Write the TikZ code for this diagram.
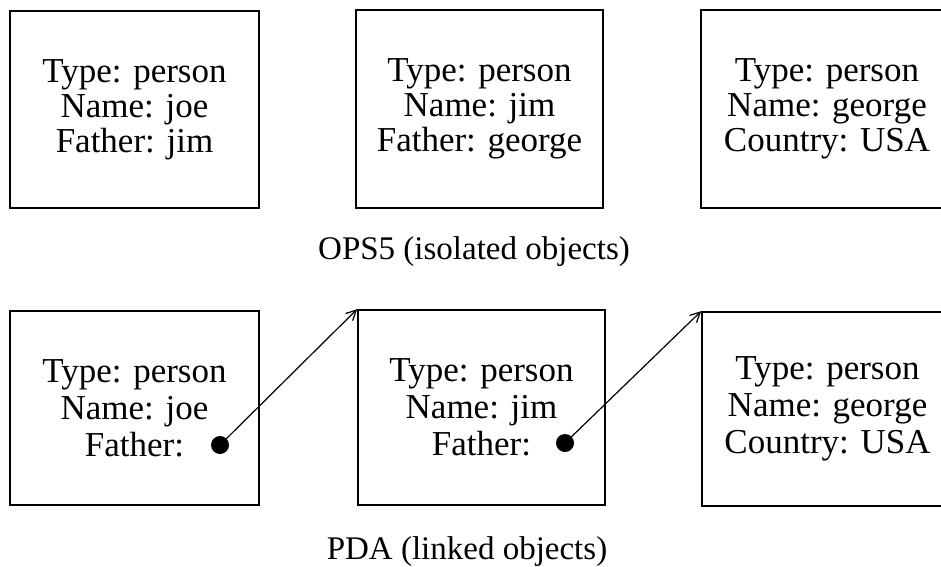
\documentclass[tikz,border=0pt]{standalone}
\usepackage{fontspec}
\setmainfont{Liberation Serif}
\usetikzlibrary{arrows.meta}
\begin{document}
\begin{tikzpicture}[x=1pt,y=-1pt,
  objbox/.style={draw, line width=1.7pt, rectangle, align=center, inner sep=0pt,
    font=\fontsize{35}{35}\selectfont},
  linkbox/.style={objbox, font=\fontsize{35}{37}\selectfont},
  caption/.style={font=\fontsize{33}{36}\selectfont, inner sep=0pt},
  ptr/.style={circle, fill, inner sep=0pt, minimum size=18pt},
  link/.style={line width=1.2pt, -{Straight Barb[length=10pt,width=10pt,line width=1.2pt]}}]
\useasboundingbox (0,0) rectangle (941,566);
\clip (0,0) rectangle (941,566);

% isolated objects
\node[objbox, minimum width=249pt, minimum height=197pt] (a1) at (134.5,109.5)
  {Type: person\\Name: joe\\Father: jim};
\node[objbox, minimum width=247pt, minimum height=198pt] (a2) at (479.5,109)
  {Type: person\\Name: jim\\Father: george};
\node[objbox, minimum width=252pt, minimum height=198pt] (a3) at (827,109)
  {Type: person\\Name: george\\Country: USA};
\node[caption] (c1) at (474,252) {OPS5 (isolated objects)};

% linked objects
\node[linkbox, minimum width=249pt, minimum height=194pt] (b1) at (134.5,408)
  {Type: person\\Name: joe\\Father:};
\node[linkbox, minimum width=247pt, minimum height=195pt] (b2) at (481.5,407.5)
  {Type: person\\Name: jim\\Father:};
\node[linkbox, minimum width=251pt, minimum height=194pt] (b3) at (827.5,409)
  {Type: person\\Name: george\\Country: USA};
\node[caption] (c2) at (467,552) {PDA (linked objects)};

\node[ptr] (p1) at (220,445) {};
\node[ptr] (p2) at (565,443) {};
\draw[link] (p1.center) -- (b2.north west);
\draw[link] (p2.center) -- (b3.north west);
\end{tikzpicture}
\end{document}
